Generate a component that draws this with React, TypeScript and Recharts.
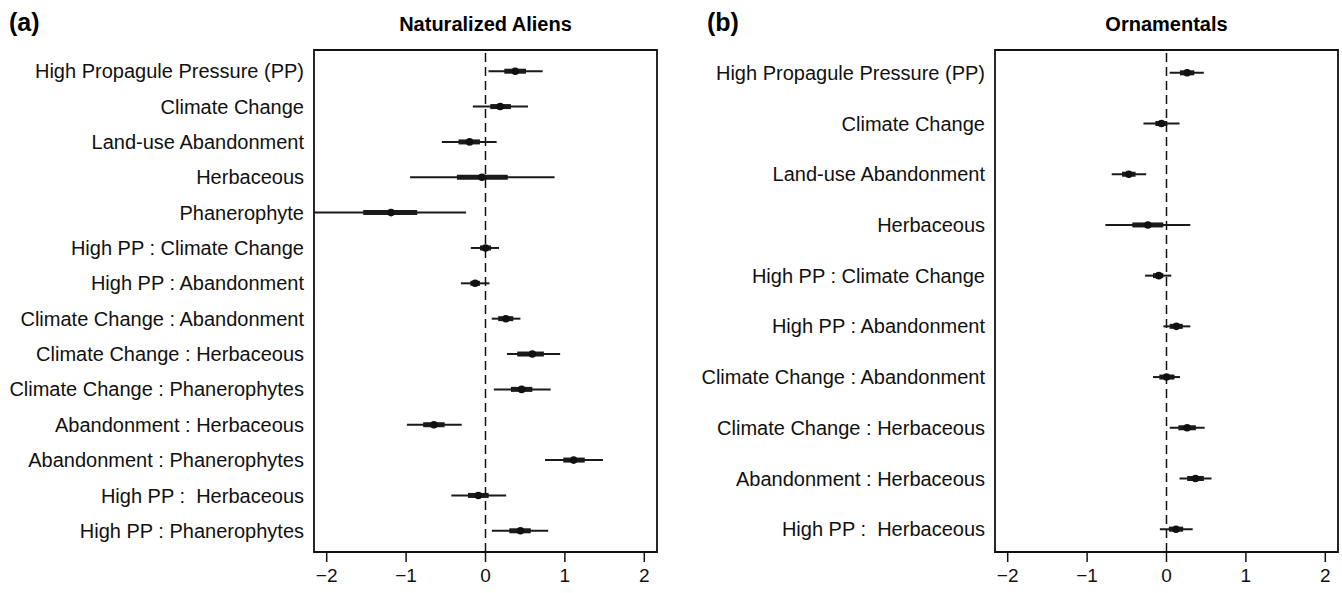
import { ScatterChart, Scatter, XAxis, YAxis, ReferenceLine, ReferenceArea } from 'recharts'

const FONT = '"Liberation Sans", Arial, Helvetica, sans-serif'
const X_TICKS = [-2, -1, 0, 1, 2]

// (a) Naturalized Aliens
const LABELS_A = [
  'High Propagule Pressure (PP)',
  'Climate Change',
  'Land-use Abandonment',
  'Herbaceous',
  'Phanerophyte',
  'High PP : Climate Change',
  'High PP : Abandonment',
  'Climate Change : Abandonment',
  'Climate Change : Herbaceous',
  'Climate Change : Phanerophytes',
  'Abandonment : Herbaceous',
  'Abandonment : Phanerophytes',
  'High PP :\u00a0 Herbaceous',
  'High PP : Phanerophytes',
]
const EST_A = [0.375, 0.185, -0.2, -0.045, -1.19, 0.0, -0.13, 0.256, 0.59, 0.455, -0.65, 1.11, -0.09, 0.44]
const LO95_A = [0.038, -0.16, -0.55, -0.95, -2.3, -0.185, -0.31, 0.078, 0.27, 0.105, -0.99, 0.75, -0.43, 0.08]
const HI95_A = [0.72, 0.535, 0.14, 0.87, -0.245, 0.17, 0.05, 0.44, 0.94, 0.82, -0.3, 1.48, 0.26, 0.79]
const LO50_A = [0.237, 0.06, -0.34, -0.36, -1.54, -0.07, -0.19, 0.16, 0.4, 0.32, -0.785, 0.98, -0.22, 0.3]
const HI50_A = [0.51, 0.32, -0.07, 0.28, -0.86, 0.07, -0.07, 0.35, 0.735, 0.59, -0.515, 1.25, 0.04, 0.57]

// (b) Ornamentals
const LABELS_B = [
  'High Propagule Pressure (PP)',
  'Climate Change',
  'Land-use Abandonment',
  'Herbaceous',
  'High PP : Climate Change',
  'High PP : Abandonment',
  'Climate Change : Abandonment',
  'Climate Change : Herbaceous',
  'Abandonment : Herbaceous',
  'High PP :\u00a0 Herbaceous',
]
const EST_B = [0.26, -0.063, -0.475, -0.235, -0.097, 0.125, 0.0, 0.26, 0.365, 0.12]
const LO95_B = [0.04, -0.29, -0.69, -0.77, -0.27, -0.04, -0.17, 0.04, 0.164, -0.084]
const HI95_B = [0.47, 0.164, -0.256, 0.3, 0.06, 0.3, 0.17, 0.48, 0.567, 0.33]
const LO50_B = [0.17, -0.14, -0.56, -0.43, -0.17, 0.04, -0.09, 0.15, 0.26, 0.03]
const HI50_B = [0.35, 0.01, -0.39, -0.04, -0.04, 0.205, 0.1, 0.37, 0.47, 0.21]

const fmtTick = (v: number) => (v < 0 ? '\u2212' + Math.abs(v) : String(v))

function Dot(props: any) {
  return <circle cx={props.cx} cy={props.cy} r={3.8} fill="#111" />
}

interface PanelProps {
  labels: string[]
  est: number[]
  lo95: number[]
  hi95: number[]
  lo50: number[]
  hi50: number[]
  yDomain: [number, number]
  left: number
  axisWidth: number
  marginRight: number
  title: string
  letter: string
  letterX: number
}

function Panel(p: PanelProps) {
  const data = p.est.map((x, i) => ({ x, y: i + 1 }))
  const rows = p.labels.map((_, i) => i + 1)
  const xDomain: [number, number] = [-2.16, 2.16]
  const plotLeft = p.left + p.axisWidth
  const plotRight = p.left + 671 - p.marginRight
  return (
    <>
      <div style={{ position: 'absolute', left: p.letterX, top: 10, fontFamily: FONT, fontWeight: 'bold', fontSize: 25, lineHeight: '25px' }}>
        {p.letter}
      </div>
      <div style={{ position: 'absolute', left: plotLeft, width: plotRight - plotLeft, top: 14, textAlign: 'center', fontFamily: FONT, fontWeight: 'bold', fontSize: 20, lineHeight: '20px' }}>
        {p.title}
      </div>
      <div style={{ position: 'absolute', left: p.left, top: 0 }}>
        <ScatterChart width={671} height={593} margin={{ top: 50, right: p.marginRight, bottom: 0, left: 0 }}>
          <XAxis
            type="number"
            dataKey="x"
            domain={xDomain}
            allowDataOverflow
            ticks={X_TICKS}
            tickFormatter={fmtTick}
            axisLine={false}
            tickSize={10}
            tickMargin={7}
            height={41}
            tick={{ fill: '#111', fontSize: 19, fontFamily: FONT }}
            tickLine={{ stroke: '#111', strokeWidth: 1.5 }}
          />
          <YAxis
            type="number"
            dataKey="y"
            domain={p.yDomain}
            allowDataOverflow
            reversed
            ticks={rows}
            interval={0}
            tickFormatter={(v: number) => p.labels[v - 1]}
            axisLine={false}
            tickLine={false}
            tickSize={8}
            tickMargin={2}
            width={p.axisWidth}
            tick={{ fill: '#111', fontSize: 20, fontFamily: FONT }}
          />
          <ReferenceArea
            x1={xDomain[0]}
            x2={xDomain[1]}
            y1={p.yDomain[0]}
            y2={p.yDomain[1]}
            fill="none"
            stroke="#111"
            strokeWidth={1.8}
            ifOverflow="visible"
          />
          <ReferenceLine x={0} stroke="#111" strokeWidth={1.5} strokeDasharray="9 5" />
          {rows.map((y, i) => (
            <ReferenceLine
              key={`t${y}`}
              segment={[{ x: p.lo95[i], y }, { x: p.hi95[i], y }]}
              stroke="#1a1a1a"
              strokeWidth={2}
              ifOverflow="hidden"
            />
          ))}
          {rows.map((y, i) => (
            <ReferenceLine
              key={`k${y}`}
              segment={[{ x: p.lo50[i], y }, { x: p.hi50[i], y }]}
              stroke="#1a1a1a"
              strokeWidth={5}
              ifOverflow="hidden"
            />
          ))}
          <Scatter data={data} shape={Dot} isAnimationActive={false} />
        </ScatterChart>
      </div>
    </>
  )
}

export default function App() {
  return (
    <div style={{ position: 'absolute', left: 0, top: 0, width: 1342, height: 593, background: '#fff' }}>
      <Panel
        labels={LABELS_A}
        est={EST_A}
        lo95={LO95_A}
        hi95={HI95_A}
        lo50={LO50_A}
        hi50={HI50_A}
        yDomain={[0.4, 14.6]}
        left={0}
        axisWidth={314}
        marginRight={14}
        title="Naturalized Aliens"
        letter="(a)"
        letterX={9}
      />
      <Panel
        labels={LABELS_B}
        est={EST_B}
        lo95={LO95_B}
        hi95={HI95_B}
        lo50={LO50_B}
        hi50={HI50_B}
        yDomain={[0.55, 10.45]}
        left={671}
        axisWidth={324}
        marginRight={4}
        title="Ornamentals"
        letter="(b)"
        letterX={707}
      />
    </div>
  )
}
